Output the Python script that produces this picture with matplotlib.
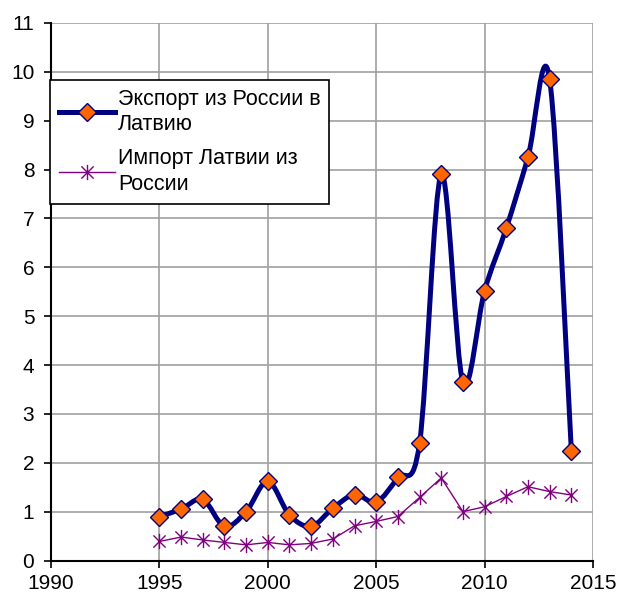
import numpy as np
import matplotlib
matplotlib.use("Agg")
import matplotlib.pyplot as plt
from matplotlib.path import Path
from matplotlib.patches import PathPatch
from matplotlib.lines import Line2D

plt.rcParams['font.family'] = ['Liberation Sans', 'DejaVu Sans']

years = [1995, 1996, 1997, 1998, 1999, 2000, 2001, 2002, 2003, 2004,
         2005, 2006, 2007, 2008, 2009, 2010, 2011, 2012, 2013, 2014]
export_ru_lv = [0.9, 1.05, 1.25, 0.7, 1.0, 1.62, 0.93, 0.7, 1.07, 1.35,
                1.2, 1.7, 2.4, 7.9, 3.65, 5.52, 6.8, 8.25, 9.85, 2.25]
import_lv_ru = [0.39, 0.48, 0.42, 0.37, 0.32, 0.37, 0.32, 0.35, 0.44, 0.71,
                0.80, 0.90, 1.29, 1.69, 1.0, 1.10, 1.31, 1.51, 1.41, 1.34]
label_export = "Экспорт из России в\nЛатвию"
label_import = "Импорт Латвии из\nРоссии"
xticks = [1990, 1995, 2000, 2005, 2010, 2015]
yticks = list(range(0, 12))

NAVY = "#000080"
ORANGE = "#FF6600"
PURPLE = "#800080"
FS = 15
LFS = 15.5

fig = plt.figure(figsize=(6.19, 5.94), dpi=100)
L, R, T, B = 51, 593, 23, 560.5
ax = fig.add_axes([L/619, 1 - B/594, (R - L)/619, (B - T)/594])

# smoothed export line (Excel-like Catmull-Rom Bezier)
P = np.column_stack([years, export_ru_lv]).astype(float)
verts = [tuple(P[0])]
codes = [Path.MOVETO]
n = len(P)
for i in range(n - 1):
    p0 = P[i - 1] if i > 0 else P[i]
    p1 = P[i]
    p2 = P[i + 1]
    p3 = P[i + 2] if i + 2 < n else P[i + 1]
    c1 = p1 + (p2 - p0) / 6.0
    c2 = p2 - (p3 - p1) / 6.0
    verts += [tuple(c1), tuple(c2), tuple(p2)]
    codes += [Path.CURVE4] * 3
path = Path(verts, codes)
ax.add_patch(PathPatch(path, facecolor='none', edgecolor=NAVY, lw=3.6,
                       capstyle='round', joinstyle='round', zorder=3))
ax.plot(years, export_ru_lv, ls='none', marker='D', ms=9.5,
        mfc=ORANGE, mec=NAVY, mew=1.0, zorder=4)

star = Path([(0, -1), (0, 1), (-0.8, -0.8), (0.8, 0.8), (-0.8, 0.8), (0.8, -0.8)],
            [Path.MOVETO, Path.LINETO, Path.MOVETO, Path.LINETO, Path.MOVETO, Path.LINETO])
ax.plot(years, import_lv_ru, color=PURPLE, lw=1.0, marker=star, ms=11,
        mec=PURPLE, mew=1.0, mfc='none', zorder=3)

ax.set_xlim(1990, 2015)
ax.set_ylim(0, 11)
ax.set_xticks(xticks)
ax.set_yticks(yticks)
ax.grid(True, color='#A0A0A0', lw=1.2)
ax.set_axisbelow(True)
for s in ['top', 'right']:
    ax.spines[s].set_visible(False)
for s in ['left', 'bottom']:
    ax.spines[s].set_color('black')
    ax.spines[s].set_linewidth(1.5)
ax.tick_params(axis='both', direction='out', length=5, width=1.2,
               labelsize=FS, colors='black')
ax.tick_params(axis='x', pad=5)
ax.tick_params(axis='y', pad=7)

h1 = Line2D([], [], color=NAVY, lw=3.6, marker='D', ms=9.5, mfc=ORANGE,
            mec=NAVY, mew=1.0)
h2 = Line2D([], [], color=PURPLE, lw=1.0, marker=star, ms=11, mec=PURPLE,
            mew=1.0)
leg = ax.legend([h1, h2], [label_export, label_import], loc='upper left',
                bbox_to_anchor=((50 - L) / (R - L), (B - 80) / (B - T)),
                fontsize=LFS, frameon=True,
                fancybox=False, edgecolor='black', framealpha=1,
                handlelength=2.6, handletextpad=0.15, borderpad=0.4,
                labelspacing=0.6, borderaxespad=0)
for t in leg.get_texts():
    t.set_linespacing(1.3)
leg.get_frame().set_linewidth(1.2)
leg.set_zorder(10)

fig.savefig("out.png", dpi=100)
